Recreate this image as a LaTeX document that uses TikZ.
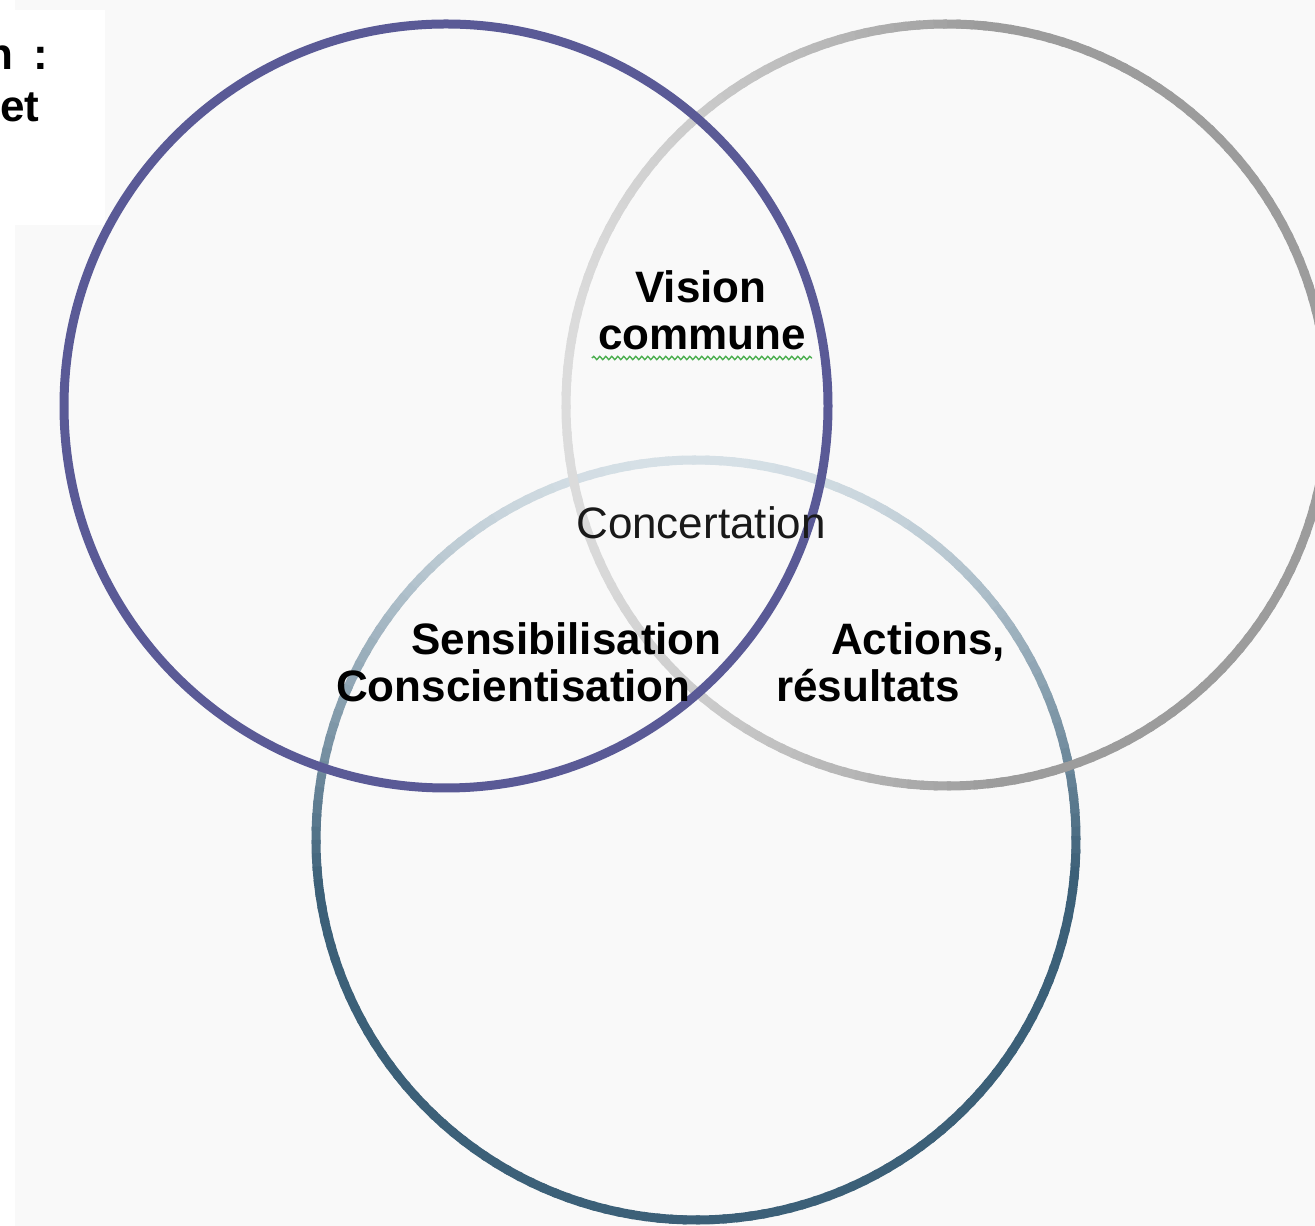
\documentclass[tikz,border=0pt]{standalone}
\usepackage{fontspec}
\setmainfont{Liberation Sans}
\usetikzlibrary{decorations.pathmorphing}

\definecolor{pagegrey}{HTML}{F9F9F9}
\definecolor{ringpurple}{HTML}{5A5A96}
\definecolor{ringgreydark}{HTML}{9C9C9C}
\definecolor{ringgreylight}{HTML}{DCDCDC}
\definecolor{ringslatedark}{HTML}{3C6078}
\definecolor{ringslatelight}{HTML}{D6E0E6}
\definecolor{spellgreen}{HTML}{4CAF50}

\tikzset{
  ring/.style={line width=9pt},
  boldtext/.style={font=\fontsize{44}{50}\selectfont\bfseries, inner sep=0pt, text=black},
  plaintext/.style={font=\fontsize{44}{50}\selectfont, inner sep=0pt, text=black!90},
}

% ring whose stroke fades from a light tone (at angle #3) to a dark tone
% #1 centre, #2 radius, #3 light angle, #4 dark colour, #5 light colour, #6 spread
\newcommand\fadedring[6]{%
  \foreach \a in {0,2,...,358}{
    \pgfmathsetmacro\d{abs(mod(\a-#3+540,360)-180)}
    \pgfmathsetmacro\f{min(1,\d/#6)}
    \pgfmathtruncatemacro\p{100*\f*\f}
    \draw[ring, draw=#4!\p!#5] #1 ++(\a:#2) arc[start angle=\a, delta angle=2.6, radius=#2];
  }}

\begin{document}
\begin{tikzpicture}[x=1pt,y=1pt]
  \useasboundingbox (0,0) rectangle (1315,1226);
  \clip (0,0) rectangle (1315,1226);

  % page background and the white legend box
  \fill[white] (0,0) rectangle (1315,1226);
  \fill[pagegrey] (15,0) rectangle (1315,1226);
  \fill[white] (0,1216) rectangle (105,1001);
  \node[boldtext, anchor=base west] (legendA) at (-14,1156) {n\hspace{20pt}:};
  \node[boldtext, anchor=base west] (legendB) at (0,1104) {et};

  % circle centres
  \coordinate (cpurple) at (446,820);
  \coordinate (cgrey) at (947,821);
  \coordinate (cslate) at (696,386);

  % rings
  \fadedring{(cslate)}{380}{90}{ringslatedark}{ringslatelight}{95}
  \fadedring{(cgrey)}{381}{180}{ringgreydark}{ringgreylight}{95}
  \draw[ring, draw=ringpurple] (cpurple) circle[radius=382];

  % labels
  \node[boldtext, anchor=base] (vision) at (701,923) {Vision};
  \node[boldtext, anchor=base] (commune) at (702,876) {commune};
  \draw[spellgreen, line width=1.4pt,
        decorate, decoration={snake, amplitude=1.6pt, segment length=6pt}]
       ([xshift=-6pt,yshift=-8pt]commune.base west) -- ([xshift=6pt,yshift=-8pt]commune.base east);
  \node[plaintext, anchor=base] (concert) at (701,687) {Concertation};
  \node[boldtext, anchor=base west] (sensib) at (411,571) {Sensibilisation};
  \node[boldtext, anchor=base west] (conscient) at (336,524) {Conscientisation};
  \node[boldtext, anchor=base west] (actions) at (831,571) {Actions,};
  \node[boldtext, anchor=base west] (result) at (776,524) {résultats};
\end{tikzpicture}
\end{document}
